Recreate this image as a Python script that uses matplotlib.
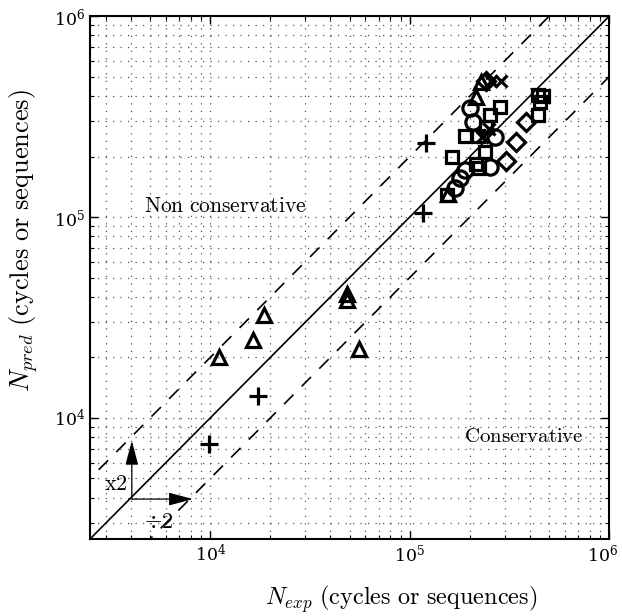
import matplotlib
matplotlib.use("Agg")
import matplotlib.pyplot as plt
import matplotlib.transforms as mtransforms
import numpy as np

# Donnees (N_exp, N_pred)
plus_exp = [1.20e5, 1.17e5, 1.73e4, 9.9e3]
plus_pred = [2.33e5, 1.05e5, 1.29e4, 7.4e3]

tri_exp = [1.11e4, 1.64e4, 1.86e4, 4.86e4, 4.86e4, 5.58e4, 2.28e5, 2.15e5, 1.55e5]
tri_pred = [2.02e4, 2.45e4, 3.26e4, 4.15e4, 3.88e4, 2.21e4, 4.69e5, 3.95e5, 1.30e5]

x_exp = [2.56e5, 2.87e5, 2.50e5, 2.31e5]
x_pred = [4.74e5, 4.74e5, 2.73e5, 2.49e5]

sq_exp = [2.84e5, 2.53e5, 2.42e5, 1.90e5, 2.20e5, 1.62e5, 2.39e5, 2.15e5, 2.23e5,
          1.53e5, 4.38e5, 4.64e5, 4.49e5, 4.38e5]
sq_pred = [3.52e5, 3.21e5, 2.80e5, 2.52e5, 2.52e5, 2.00e5, 2.10e5, 1.83e5, 1.75e5,
           1.28e5, 4.04e5, 3.99e5, 3.73e5, 3.21e5]

circ_exp = [2.01e5, 2.08e5, 2.68e5, 2.53e5, 1.90e5, 1.79e5, 1.69e5]
circ_pred = [3.48e5, 2.96e5, 2.49e5, 1.77e5, 1.71e5, 1.56e5, 1.40e5]

dia_exp = [3.04e5, 3.41e5, 3.82e5, 2.42e5]
dia_pred = [1.91e5, 2.35e5, 2.96e5, 4.74e5]

lims = [2.5e3, 1e6]
major_ticks = [1e4, 1e5, 1e6]

plt.rcParams["mathtext.fontset"] = "cm"
plt.rcParams["font.family"] = "serif"
plt.rcParams["font.serif"] = ["DejaVu Serif"]

fig = plt.figure(figsize=(6.22, 6.16), dpi=100)
ax = fig.add_axes([0.1447, 0.125, 0.835, 0.849])

ax.set_xscale("log")
ax.set_yscale("log")
ax.set_xlim(lims)
ax.set_ylim(lims)
ax.set_xticks(major_ticks)
ax.set_yticks(major_ticks)

# Droites x1, x2 et /2
ref = np.array([1e3, 2e6])
ax.plot(ref, ref, color="black", lw=1.2, zorder=2)
ax.plot(ref, 2 * ref, color="black", lw=1.2, ls=(0, (8, 7)), zorder=2)
ax.plot(ref, ref / 2, color="black", lw=1.2, ls=(0, (8, 7)), zorder=2)

kw = dict(ls="none", mfc="none", mec="black", mew=2.3, zorder=3)
ax.plot(plus_exp, plus_pred, marker="+", ms=13, **kw)
ax.plot(tri_exp, tri_pred, marker="^", ms=10.5, **kw)
ax.plot(x_exp, x_pred, marker="x", ms=9, **kw)
ax.plot(sq_exp, sq_pred, marker="s", ms=8.5, **kw)
ax.plot(circ_exp, circ_pred, marker="o", ms=11, **kw)
ax.plot(dia_exp, dia_pred, marker="D", ms=9, **kw)

# Fleches x2 et /2
arr = dict(arrowstyle="-|>,head_length=1.5,head_width=0.4", color="black",
           lw=0.9, shrinkA=0, shrinkB=0)
ax.annotate("", xy=(4.05e3, 7.7e3), xytext=(4.05e3, 3.95e3), arrowprops=arr)
ax.annotate("", xy=(8.2e3, 3.95e3), xytext=(4.05e3, 3.95e3), arrowprops=arr)
ax.text(3.37e3, 4.7e3, r"$\mathrm{x2}$", fontsize=16, ha="center", va="center")
ax.text(5.5e3, 3.03e3, r"$\div 2$", fontsize=16, ha="center", va="center")

ax.text(1.19e4, 1.14e5, r"$\mathrm{Non\ conservative}$", fontsize=15.5,
        ha="center", va="center")
ax.text(3.72e5, 8.1e3, r"$\mathrm{Conservative}$", fontsize=15,
        ha="center", va="center")

ax.grid(True, which="both", color="#555555", lw=0.9, ls=(0, (1, 5)))
ax.tick_params(which="both", direction="in", top=True, right=True, labelsize=12.5)
ax.tick_params(which="major", length=6, width=1)
ax.tick_params(which="minor", length=3, width=0.8)
for s in ax.spines.values():
    s.set_linewidth(1.5)

# decaler un peu le label 10^6 pour qu'il reste dans l'image
last = ax.xaxis.get_major_ticks()[-1].label1
last.set_transform(last.get_transform() +
                   mtransforms.ScaledTranslation(-7 / 100, 0, fig.dpi_scale_trans))

ax.set_xlabel(r"$N_{exp}\ \mathrm{(cycles\ or\ sequences)}$", fontsize=17.5)
ax.set_ylabel(r"$N_{pred}\ \mathrm{(cycles\ or\ sequences)}$", fontsize=19)
ax.xaxis.set_label_coords(0.60, -0.085)
ax.yaxis.set_label_coords(-0.097, 0.57)

fig.savefig("out.png", dpi=100)
